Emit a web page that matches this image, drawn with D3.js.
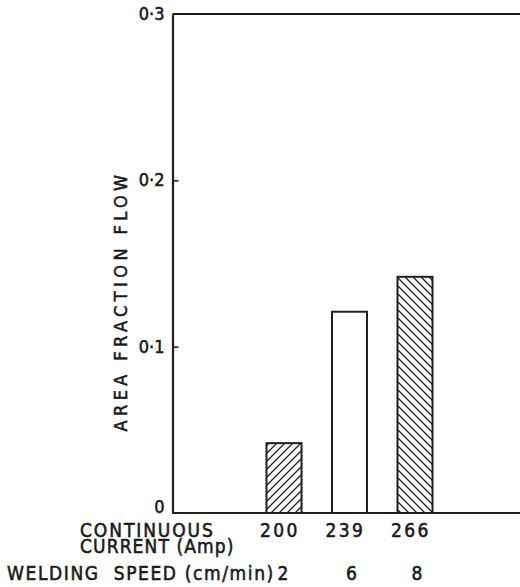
<!DOCTYPE html>
<html><head><meta charset="utf-8">
<script src="https://cdn.jsdelivr.net/npm/d3@7"></script>
<style>
body{margin:0;background:#fff;}
text{font-family:"DejaVu Sans Condensed","DejaVu Sans",sans-serif;fill:#1a1a1a;stroke:#1a1a1a;stroke-width:0.55px;white-space:pre;}
</style></head>
<body><svg id="c" width="520" height="587"></svg>
<script>
const currents = ["200","239","266"];
const speeds = ["2","6","8"];
const values = [0.042, 0.121, 0.142];
const hatch = ["fwd","none","back"];
const yTicks = [0, 0.1, 0.2, 0.3];
const yTickLabels = ["0","0·1","0·2","0·3"];

const svg = d3.select("#c");
const ink = "#1f1f1f";
const x0 = 172.5, yTop = 14, yBot = 513, right = 522;
const y = d3.scaleLinear().domain([0,0.3]).range([yBot,yTop]);
const x = d3.scalePoint().domain(currents).range([284,415]);
const bw = 35;

const defs = svg.append("defs");
function pat(id, fwd){
  const p = defs.append("pattern").attr("id",id).attr("patternUnits","userSpaceOnUse")
    .attr("width",8).attr("height",8);
  const d = fwd ? "M-2,2L2,-2M0,8L8,0M6,10L10,6" : "M-2,6L2,10M0,0L8,8M6,-2L10,2";
  p.append("path").attr("d",d).attr("stroke",ink).attr("stroke-width",1.3).attr("fill","none");
}
pat("fwd",true); pat("back",false);

// bars
svg.selectAll("rect.bar").data(values).join("rect")
  .attr("x",(d,i)=>x(currents[i])-bw/2).attr("y",d=>y(d))
  .attr("width",bw).attr("height",d=>yBot-y(d))
  .attr("fill",(d,i)=>hatch[i]==="none"?"#fff":"url(#"+hatch[i]+")")
  .attr("stroke",ink).attr("stroke-width",2);

// frame
svg.append("line").attr("x1",x0).attr("x2",right).attr("y1",yTop).attr("y2",yTop).attr("stroke",ink).attr("stroke-width",2.2);
svg.append("line").attr("x1",x0).attr("x2",right).attr("y1",yBot).attr("y2",yBot).attr("stroke",ink).attr("stroke-width",2.2);

// y axis
const ax = d3.axisLeft(y).tickValues(yTicks).tickSizeInner(-6).tickSizeOuter(0).tickPadding(8)
  .tickFormat((d,i)=>yTickLabels[i]);
const g = svg.append("g").attr("transform","translate("+x0+",0)").call(ax);
g.select(".domain").attr("stroke",ink).attr("stroke-width",2.2);
g.selectAll(".tick line").attr("stroke",ink).attr("stroke-width",1.6)
  .attr("display",d=>(d===0||d===0.3)?"none":null);
g.selectAll(".tick text").attr("font-family",null).style("font-size","18px").attr("fill",ink)
  .attr("dy",(d)=>d===0?"-0.05em":"0.3em");

// y label
svg.append("text").attr("transform","translate(127,301) rotate(-90)")
  .attr("text-anchor","middle").style("font-size","18px").style("letter-spacing","4.4px")
  .text("AREA FRACTION FLOW");

// x labels
const fs = "19px";
svg.append("text").attr("x",80).attr("y",537).style("font-size",fs).style("letter-spacing","1.9px").text("CONTINUOUS");
svg.append("text").attr("x",80).attr("y",553).style("font-size",fs).style("letter-spacing","1.1px").text("CURRENT (Amp)");
svg.append("text").attr("x",7).attr("y",580).style("font-size",fs).style("letter-spacing","1.6px").text("WELDING  SPEED (cm/min)");
svg.selectAll("text.cur").data(currents).join("text").attr("class","cur")
  .attr("x",d=>x(d)-4).attr("y",537).attr("text-anchor","middle").style("font-size",fs).style("letter-spacing","2.4px").text(d=>d);
svg.selectAll("text.spd").data(speeds).join("text").attr("class","spd")
  .attr("x",(d,i)=>x(currents[i])+(i===0?-1:2)).attr("y",580).attr("text-anchor","middle").style("font-size",fs).text(d=>d);
</script></body></html>
